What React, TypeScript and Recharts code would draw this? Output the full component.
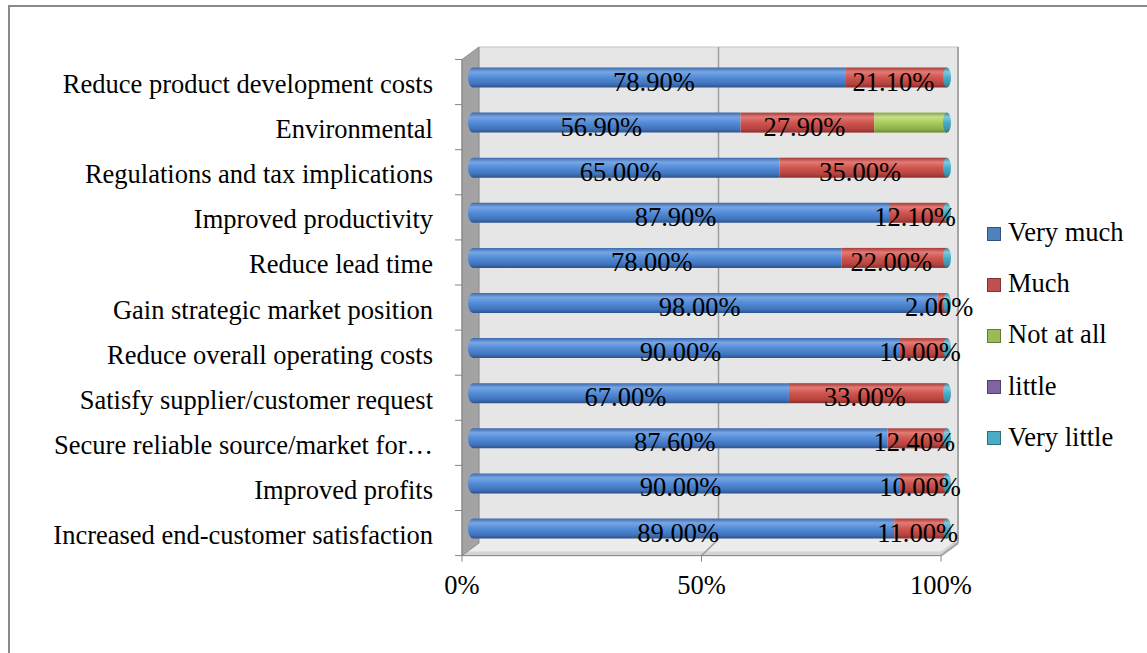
import React from 'react';
import { BarChart, Bar, XAxis, YAxis, LabelList } from 'recharts';

const categories = [
  'Reduce product development costs',
  'Environmental',
  'Regulations and tax implications',
  'Improved productivity',
  'Reduce lead time',
  'Gain strategic market position',
  'Reduce overall operating costs',
  'Satisfy supplier/customer request',
  'Secure reliable source/market for…',
  'Improved profits',
  'Increased end-customer satisfaction',
];
const veryMuch = [78.9, 56.9, 65.0, 87.9, 78.0, 98.0, 90.0, 67.0, 87.6, 90.0, 89.0];
const much = [21.1, 27.9, 35.0, 12.1, 22.0, 2.0, 10.0, 33.0, 12.4, 10.0, 11.0];
const notAtAll = [0, 15.2, 0, 0, 0, 0, 0, 0, 0, 0, 0];
const little = [0, 0, 0, 0, 0, 0, 0, 0, 0, 0, 0];
const veryLittle = [0, 0, 0, 0, 0, 0, 0, 0, 0, 0, 0];
const xTicks = [0, 50, 100];

const seriesNames = ['Very much', 'Much', 'Not at all', 'little', 'Very little'];
const seriesKeys = ['veryMuch', 'much', 'notAtAll', 'little', 'veryLittle'];
const seriesColors = ['#4F81BD', '#C0504D', '#9BBB59', '#8064A2', '#4BACC6'];

const data = categories.map((name, i) => ({
  name,
  veryMuch: veryMuch[i],
  much: much[i],
  notAtAll: notAtAll[i],
  little: little[i],
  veryLittle: veryLittle[i],
}));

const W = 1147;
const H = 653;
const FONT = "'Liberation Serif', 'Times New Roman', serif";
const FS = 26.5;

// plot area (bar plane)
const PLOT_LEFT = 468;
const PLOT_RIGHT = 947;
const PLOT_TOP = 54.5;
const PLOT_BOTTOM = 550.6;
const X_AXIS_H = 40;
const MARGIN = { top: PLOT_TOP, right: W - PLOT_RIGHT, bottom: H - PLOT_BOTTOM - X_AXIS_H, left: 10 };
const Y_AXIS_W = PLOT_LEFT - MARGIN.left;
// 3D offsets of the back and front planes relative to the bar plane
const BACK = { dx: 11, dy: -7.5 };
const FRONT = { dx: -6, dy: 5 };

const gradients = {
  veryMuch: ['#3b69ab', '#78a6e4', '#538cd8', '#4173bb', '#2b528c'],
  much: ['#a53b38', '#e27a75', '#d0554f', '#b5433f', '#8a2e2c'],
  notAtAll: ['#82a540', '#c6e08a', '#a9cc5e', '#90b04a', '#6c8833'],
  little: ['#674f88', '#a68dc6', '#8a70ad', '#735a98', '#553f73'],
  veryLittle: ['#2f8aa2', '#7ccbe0', '#4bacc6', '#3a95ad', '#2a7286'],
};

const Walls = () => {
  const bl = PLOT_LEFT + BACK.dx, br = PLOT_RIGHT + BACK.dx;
  const bt = PLOT_TOP + BACK.dy, bb = PLOT_BOTTOM + BACK.dy;
  const fl = PLOT_LEFT + FRONT.dx, fr = PLOT_RIGHT + FRONT.dx;
  const ft = PLOT_TOP + FRONT.dy, fb = PLOT_BOTTOM + FRONT.dy;
  const n = categories.length;
  const band = (fb - ft) / n;
  return (
    <svg width={W} height={H} style={{ position: 'absolute', left: 0, top: 0 }}>
      {/* back wall */}
      <rect x={bl} y={bt} width={br - bl} height={bb - bt} fill="#e6e6e6" stroke="#c4c4c4" strokeWidth={1} />
      <line x1={br} y1={bt} x2={br} y2={bb} stroke="#a6a6a6" strokeWidth={2} />
      {/* floor */}
      <polygon points={`${fl},${fb} ${fr},${fb} ${br},${bb} ${bl},${bb}`} fill="#d4d4d4" stroke="#bdbdbd" strokeWidth={1} />
      <polygon points={`${fl},${fb - 4} ${fr},${fb - 4} ${br},${bb - 4} ${bl},${bb - 4}`} fill="#ececec" />
      <line x1={br} y1={bb} x2={fr} y2={fb} stroke="#a6a6a6" strokeWidth={2} />
      {/* left wall */}
      <polygon points={`${fl},${ft} ${bl},${bt} ${bl},${bb} ${fl},${fb}`} fill="#a3a3a3" stroke="#8f8f8f" strokeWidth={1} />
      {/* gridlines */}
      {xTicks.filter((t) => t > 0 && t < 100).map((t) => {
        const xb = bl + ((br - bl) * t) / 100;
        const xf = fl + ((fr - fl) * t) / 100;
        return (
          <g key={t}>
            <line x1={xb} y1={bt} x2={xb} y2={bb - 4} stroke="#a0a0a0" strokeWidth={1.5} />
            <line x1={xb} y1={bb - 4} x2={xf} y2={fb} stroke="#a0a0a0" strokeWidth={1.5} />
          </g>
        );
      })}
      {/* front axes */}
      <line x1={fl} y1={ft} x2={fl} y2={fb} stroke="#868686" strokeWidth={1} />
      {Array.from({ length: n + 1 }, (_, k) => (
        <line key={'yt' + k} x1={fl - 7} y1={ft + k * band} x2={fl} y2={ft + k * band} stroke="#868686" strokeWidth={1} />
      ))}
      <line x1={fl} y1={fb} x2={fr} y2={fb} stroke="#868686" strokeWidth={1} />
      {xTicks.map((t) => {
        const xf = fl + ((fr - fl) * t) / 100;
        return <line key={'xt' + t} x1={xf} y1={fb} x2={xf} y2={fb + 6} stroke="#868686" strokeWidth={1} />;
      })}
    </svg>
  );
};

const makeShape = (key: string) => (props: any) => {
  const { x, y, width, height } = props;
  if (key === 'veryLittle') {
    return (
      <ellipse cx={x + width} cy={y + height / 2} rx={4} ry={height / 2} fill={`url(#g_${key})`} />
    );
  }
  if (!width || width <= 0) return <g />;
  if (key === 'veryMuch') {
    const rx = 5;
    const d = `M${x + rx},${y} H${x + width} V${y + height} H${x + rx} A${rx},${height / 2} 0 0 1 ${x + rx},${y} Z`;
    return <path d={d} fill={`url(#g_${key})`} />;
  }
  return <rect x={x} y={y} width={width} height={height} fill={`url(#g_${key})`} />;
};

const renderLabel = (props: any) => {
  const vb = props.viewBox && props.viewBox.width !== undefined ? props.viewBox : props;
  const { x, y, width, height } = vb;
  const value = props.value;
  if (value === undefined || value === null || Number(value) <= 0) return null;
  return (
    <text
      x={x + width / 2 - 3}
      y={y + height / 2 + 13}
      textAnchor="middle"
      fontSize={FS}
      fontFamily={FONT}
      fill="#000"
    >
      {Number(value).toFixed(2)}%
    </text>
  );
};

const YTick = (props: any) => {
  const { x, y, payload } = props;
  return (
    <text x={x} y={y + 16} textAnchor="end" fontSize={FS} fontFamily={FONT} fill="#000">
      {payload.value}
    </text>
  );
};

const XTick = (props: any) => {
  const { x, payload } = props;
  return (
    <text x={x + FRONT.dx} y={594} textAnchor="middle" fontSize={FS} fontFamily={FONT} fill="#000">
      {payload.value}%
    </text>
  );
};

const LegendBox = () => (
  <div style={{ position: 'absolute', left: 987, top: 207, fontFamily: FONT, fontSize: FS, color: '#000' }}>
    {seriesNames.map((nm, i) => (
      <div key={nm} style={{ height: 51.2, display: 'flex', alignItems: 'center', whiteSpace: 'nowrap' }}>
        <span
          style={{
            display: 'inline-block',
            width: 12,
            height: 12,
            background: seriesColors[i],
            border: '1px solid rgba(0,0,0,0.35)',
            marginRight: 7,
            position: 'relative',
            top: 1,
          }}
        />
        <span>{nm}</span>
      </div>
    ))}
  </div>
);

export default function App() {
  return (
    <div style={{ position: 'absolute', left: 0, top: 0, width: W, height: H, overflow: 'hidden', background: '#fff' }}>
      <div
        style={{
          position: 'absolute',
          left: 8,
          top: 5,
          width: W,
          height: H,
          borderLeft: '2px solid #8a8a8a',
          borderTop: '2px solid #8a8a8a',
        }}
      />
      <Walls />
      <div style={{ position: 'absolute', left: 0, top: 0 }}>
        <BarChart width={W} height={H} data={data} layout="vertical" margin={MARGIN} barSize={20}>
          <defs>
            {seriesKeys.map((k) => {
              const c = (gradients as any)[k];
              return (
                <linearGradient key={k} id={`g_${k}`} x1="0" y1="0" x2="0" y2="1">
                  <stop offset="0%" stopColor={c[0]} />
                  <stop offset="22%" stopColor={c[1]} />
                  <stop offset="50%" stopColor={c[2]} />
                  <stop offset="82%" stopColor={c[3]} />
                  <stop offset="100%" stopColor={c[4]} />
                </linearGradient>
              );
            })}
          </defs>
          <XAxis
            type="number"
            domain={[0, 100]}
            ticks={xTicks}
            axisLine={false}
            tickLine={false}
            height={X_AXIS_H}
            tick={<XTick />}
            interval={0}
          />
          <YAxis
            type="category"
            dataKey="name"
            width={Y_AXIS_W}
            axisLine={false}
            tickLine={false}
            tickSize={0}
            tickMargin={35}
            interval={0}
            tick={<YTick />}
          />
          {seriesKeys.map((k, i) => (
            <Bar
              key={k}
              dataKey={k}
              name={seriesNames[i]}
              stackId="a"
              fill={seriesColors[i]}
              isAnimationActive={false}
              shape={makeShape(k)}
            >
              {(k === 'veryMuch' || k === 'much') && <LabelList dataKey={k} content={renderLabel} />}
            </Bar>
          ))}
        </BarChart>
      </div>
      <LegendBox />
    </div>
  );
}
